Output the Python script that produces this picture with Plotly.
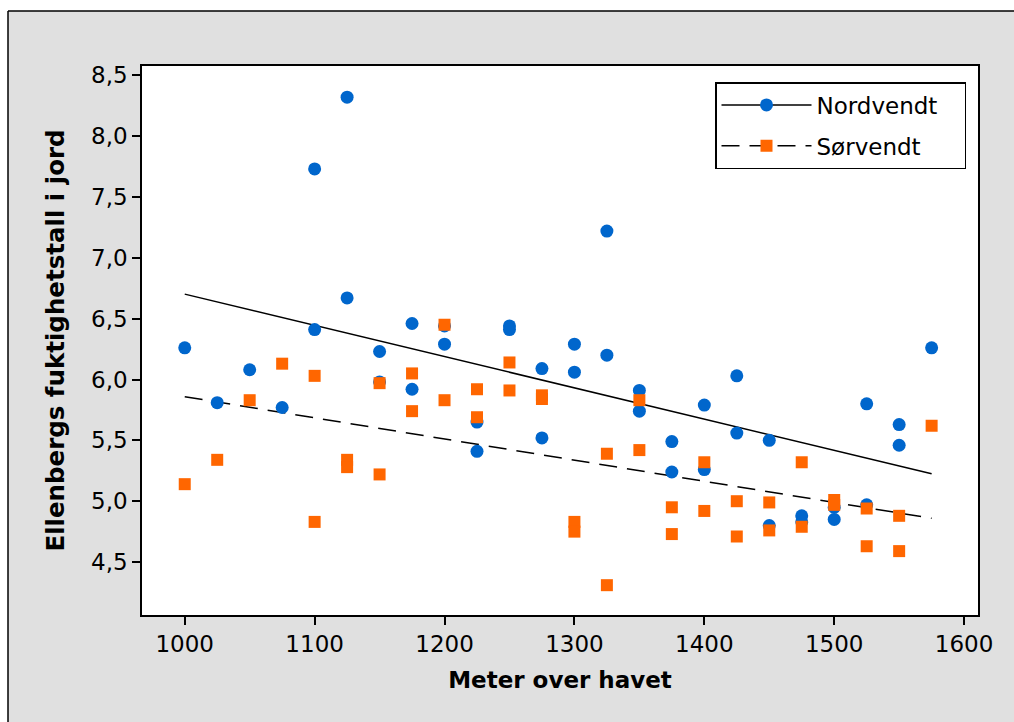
import numpy as np
import plotly.graph_objects as go

# ---- data ----
nord_x = [1000, 1025, 1050, 1075, 1100, 1100, 1125, 1125, 1150, 1150, 1175, 1175,
          1200, 1200, 1225, 1225, 1250, 1250, 1275, 1275, 1300, 1300, 1325, 1325,
          1350, 1350, 1375, 1375, 1400, 1400, 1425, 1425, 1450, 1450, 1475, 1475,
          1500, 1500, 1525, 1525, 1550, 1550, 1575]
nord_y = [6.26, 5.81, 6.08, 5.77, 7.73, 6.41, 8.32, 6.67, 6.23, 5.98, 6.46, 5.92,
          6.44, 6.29, 5.65, 5.41, 6.44, 6.41, 6.09, 5.52, 6.29, 6.06, 7.22, 6.20,
          5.91, 5.74, 5.49, 5.24, 5.79, 5.26, 6.03, 5.56, 5.50, 4.80, 4.88, 4.83,
          4.95, 4.85, 5.80, 4.97, 5.63, 5.46, 6.26]

sor_x = [1000, 1025, 1050, 1075, 1100, 1100, 1125, 1125, 1150, 1150, 1175, 1175,
         1200, 1200, 1225, 1225, 1250, 1250, 1275, 1275, 1300, 1300, 1325, 1325,
         1350, 1350, 1375, 1375, 1400, 1400, 1425, 1425, 1450, 1450, 1475, 1475,
         1500, 1500, 1525, 1525, 1550, 1550, 1575]
sor_y = [5.14, 5.34, 5.83, 6.13, 6.03, 4.83, 5.34, 5.28, 5.97, 5.22, 6.05, 5.74,
         6.45, 5.83, 5.92, 5.69, 6.14, 5.91, 5.87, 5.84, 4.83, 4.75, 5.39, 4.31,
         5.83, 5.42, 4.95, 4.73, 5.32, 4.92, 5.00, 4.71, 4.99, 4.76, 5.32, 4.79,
         5.01, 4.97, 4.94, 4.63, 4.88, 4.59, 5.62]

x_ticks = [1000, 1100, 1200, 1300, 1400, 1500, 1600]
y_ticks = [4.5, 5.0, 5.5, 6.0, 6.5, 7.0, 7.5, 8.0, 8.5]
y_ticklabels = ["4,5", "5,0", "5,5", "6,0", "6,5", "7,0", "7,5", "8,0", "8,5"]

series_names = ["Nordvendt", "Sørvendt"]
x_title = "Meter over havet"
y_title = "Ellenbergs fuktighetstall i jord"

BLUE = "#0066CC"
ORANGE = "#FF6600"
FONT = "DejaVu Sans"
DASH = "18px,10px"
PAD = "\u00a0\u00a0\u00a0"  # trailing room inside the legend box


def fit_line(xs, ys):
    b, a = np.polyfit(np.array(xs, float), np.array(ys, float), 1)
    xl = np.array([min(xs), max(xs)], float)
    return xl, a + b * xl


nx_line, ny_line = fit_line(nord_x, nord_y)
sx_line, sy_line = fit_line(sor_x, sor_y)

fig = go.Figure()

# regression lines
fig.add_trace(go.Scatter(x=nx_line, y=ny_line, mode="lines",
                         line=dict(color="black", width=1.5),
                         showlegend=False, hoverinfo="skip"))
fig.add_trace(go.Scatter(x=sx_line, y=sy_line, mode="lines",
                         line=dict(color="black", width=1.5, dash=DASH),
                         showlegend=False, hoverinfo="skip"))

# points
fig.add_trace(go.Scatter(x=nord_x, y=nord_y, mode="markers",
                         marker=dict(symbol="circle", size=13, color=BLUE,
                                     line=dict(width=0)),
                         showlegend=False))
fig.add_trace(go.Scatter(x=sor_x, y=sor_y, mode="markers",
                         marker=dict(symbol="square", size=12, color=ORANGE,
                                     line=dict(width=0)),
                         showlegend=False))

# legend entries
fig.add_trace(go.Scatter(x=[None], y=[None], mode="lines+markers", name=series_names[0] + PAD,
                         legendgroup="a",
                         line=dict(color="black", width=1.5),
                         marker=dict(symbol="circle", size=13, color=BLUE, line=dict(width=0))))
fig.add_trace(go.Scatter(x=[None], y=[None], mode="lines+markers", name=series_names[1] + PAD,
                         legendgroup="b",
                         line=dict(color="black", width=1.5, dash=DASH),
                         marker=dict(symbol="square", size=12, color=ORANGE, line=dict(width=0))))

L, R, T, B = 142, 36, 66, 107
W, H = 1014, 722
pw, ph = W - L - R, H - T - B


def px_x(p):
    return (p - L) / pw


def px_y(p):
    return (H - B - p) / ph


fig.update_layout(
    width=W, height=H,
    margin=dict(l=L, r=R, t=T, b=B, pad=0),
    paper_bgcolor="#E0E0E0",
    plot_bgcolor="white",
    font=dict(family=FONT, size=23, color="black"),
    legend=dict(
        x=px_x(715), y=px_y(82), xanchor="left", yanchor="top",
        bgcolor="white", bordercolor="black", borderwidth=1.5,
        font=dict(family=FONT, size=23, color="black"),
        itemwidth=90, traceorder="grouped", tracegroupgap=8,
    ),
    xaxis=dict(
        range=[967.1, 1610.7], tickvals=x_ticks, ticktext=[str(v) for v in x_ticks],
        showgrid=False, zeroline=False,
        showline=True, linecolor="black", linewidth=1.5, mirror=True,
        ticks="outside", ticklen=8, tickwidth=1.5, tickcolor="black",
        tickfont=dict(family=FONT, size=23),
        title=dict(text="<b>" + x_title + "</b>", font=dict(family=FONT, size=23), standoff=16),
    ),
    yaxis=dict(
        range=[4.065, 8.576], tickvals=y_ticks, ticktext=y_ticklabels,
        showgrid=False, zeroline=False,
        showline=True, linecolor="black", linewidth=1.5, mirror=True,
        ticks="outside", ticklen=8, tickwidth=1.5, tickcolor="black",
        tickfont=dict(family=FONT, size=23),
        title=dict(text="<b>" + y_title + "</b>", font=dict(family=FONT, size=24.5), standoff=19),
    ),
    shapes=[
        # white strips outside the outer frame (top and left)
        dict(type="rect", xref="paper", yref="paper", x0=px_x(-5), x1=px_x(W + 5),
             y0=px_y(11), y1=px_y(-5), fillcolor="white", line=dict(width=0), layer="below"),
        dict(type="rect", xref="paper", yref="paper", x0=px_x(-5), x1=px_x(8),
             y0=px_y(H + 5), y1=px_y(11), fillcolor="white", line=dict(width=0), layer="below"),
        # outer frame lines (left and top)
        dict(type="line", xref="paper", yref="paper", x0=px_x(8), x1=px_x(8),
             y0=px_y(11), y1=px_y(H + 5), line=dict(color="black", width=1.5)),
        dict(type="line", xref="paper", yref="paper", x0=px_x(8), x1=px_x(W + 5),
             y0=px_y(11), y1=px_y(11), line=dict(color="black", width=1.5)),
    ],
)

fig.write_html("out.html",
               config={"displayModeBar": False},
               post_script=("document.documentElement.style.overflow='hidden';"
                            "document.body.style.margin='0px';"
                            "document.body.style.overflow='hidden';"))
